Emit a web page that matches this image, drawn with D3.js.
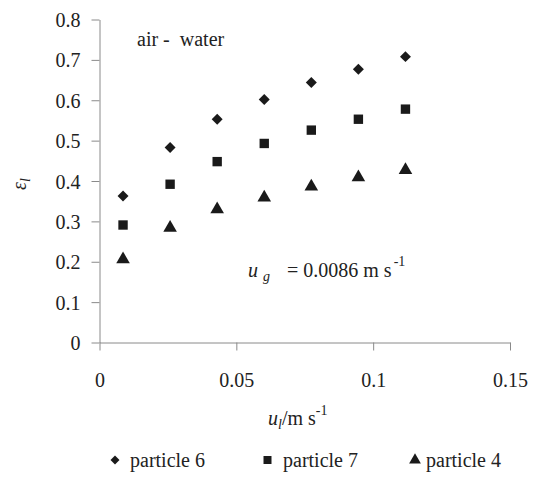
<!DOCTYPE html>
<html><head><meta charset="utf-8">
<script src="https://cdn.jsdelivr.net/npm/d3@7"></script>
<style>
body{margin:0;background:#fff;}
svg text{font-family:'Liberation Serif','Times New Roman',Times,'DejaVu Serif',serif;fill:#222;}
</style></head>
<body>
<svg id="c" width="537" height="482"></svg>
<script>
const uL = [0.0086, 0.0258, 0.043, 0.0602, 0.0774, 0.0946, 0.1118];
const particle6 = [0.363, 0.483, 0.553, 0.602, 0.644, 0.677, 0.708];
const particle7 = [0.291, 0.392, 0.448, 0.493, 0.526, 0.553, 0.578];
const particle4 = [0.206, 0.284, 0.330, 0.359, 0.386, 0.409, 0.427];
const seriesNames = ["particle 6", "particle 7", "particle 4"];
const xTicks = [0, 0.05, 0.1, 0.15];
const yTicks = [0, 0.1, 0.2, 0.3, 0.4, 0.5, 0.6, 0.7, 0.8];

const svg = d3.select("#c");
const x = d3.scaleLinear().domain([0, 0.15]).range([99.5, 510]);
const y = d3.scaleLinear().domain([0, 0.8]).range([342.5, 19.5]);
const axisColor = "#8a8a8a";
const FS = "20px";

const gx = svg.append("g").attr("transform", "translate(0,342.5)")
  .call(d3.axisBottom(x).tickValues(xTicks).tickSize(8).tickSizeOuter(0).tickPadding(22)
    .tickFormat(d => d3.format("")(d)));
const gy = svg.append("g").attr("transform", "translate(99.5,0)")
  .call(d3.axisLeft(y).tickValues(yTicks).tickSize(8).tickSizeOuter(0).tickPadding(11)
    .tickFormat(d => d3.format("")(d)));
[gx, gy].forEach(g => {
  g.attr("font-family", null);
  g.selectAll("path,line").attr("stroke", axisColor).attr("stroke-width", 1);
  g.selectAll("text").style("font-size", FS).attr("fill", "#222");
});
gy.selectAll("text").attr("dy", "0.35em");

const diamond = { draw(ctx, size) { const r = Math.sqrt(size / 2); ctx.moveTo(0, -r); ctx.lineTo(r, 0); ctx.lineTo(0, r); ctx.lineTo(-r, 0); ctx.closePath(); } };
const sym = [diamond, d3.symbolSquare, d3.symbolTriangle];
const sizes = [60, 88, 80];
const data = [particle6, particle7, particle4];
data.forEach((vals, i) => {
  svg.append("g").selectAll("path").data(vals).join("path")
    .attr("d", d3.symbol().type(sym[i]).size(sizes[i]))
    .attr("transform", (d, j) => `translate(${x(uL[j])},${y(d)})`)
    .attr("fill", "#1a1a1a");
});

// annotations
svg.append("text").attr("x", 137).attr("y", 46).style("font-size", FS).attr("xml:space","preserve").text("air -  water");

svg.append("text").attr("x", 248).attr("y", 277).style("font-size", FS).style("font-style", "italic").text("u");
svg.append("text").attr("x", 263).attr("y", 281).style("font-size", "14px").style("font-style", "italic").text("g");
const annMain = svg.append("text").attr("x", 287).attr("y", 277).style("font-size", FS).attr("xml:space","preserve").text("= 0.0086 m s");
const annEnd = 287 + annMain.node().getComputedTextLength();
svg.append("text").attr("x", annEnd + 2).attr("y", 266).style("font-size", "14px").text("-1");

// y label
svg.append("text").attr("transform", "translate(26,184) rotate(-90)").attr("text-anchor", "middle")
  .style("font-size", FS)
  .call(t => {
    t.append("tspan").style("font-style", "italic").text("ε");
    t.append("tspan").style("font-style", "italic").style("font-size", "14px").attr("dy", 4).text("l");
  });

// x label
const xl = svg.append("text").attr("x", 268).attr("y", 425).style("font-size", FS);
xl.append("tspan").style("font-style", "italic").text("u");
xl.append("tspan").style("font-style", "italic").style("font-size", "14px").attr("dy", 4).text("l");
xl.append("tspan").attr("dy", -4).text("/m s");
xl.append("tspan").style("font-size", "14px").attr("dy", -10).text("-1");

// legend
const legX = [115, 267.5, 415];
const legT = [130, 283, 426];
const legSizes = [40, 64, 60];
seriesNames.forEach((n, i) => {
  svg.append("path").attr("d", d3.symbol().type(sym[i]).size(legSizes[i]))
    .attr("transform", `translate(${legX[i]},${460})`).attr("fill", "#1a1a1a");
  svg.append("text").attr("x", legT[i]).attr("y", 467).style("font-size", FS).text(n);
});
</script>
</body></html>
